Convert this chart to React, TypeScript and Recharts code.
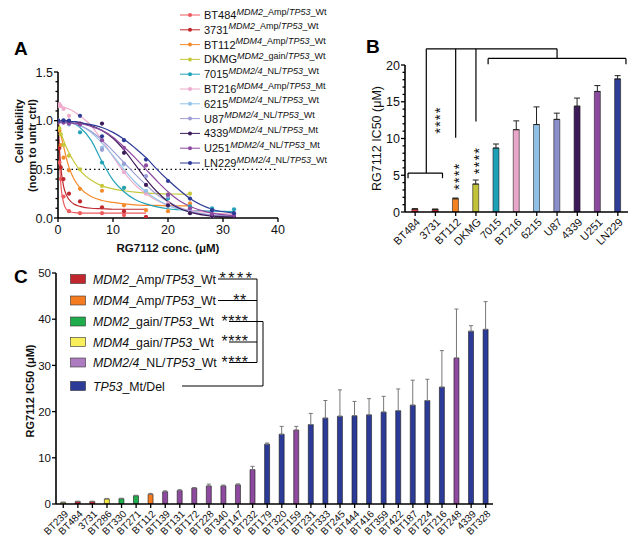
import React from 'react';
import {
  ComposedChart, Line, Scatter, Bar, XAxis, YAxis, ReferenceLine, ReferenceDot, ErrorBar, Cell,
} from 'recharts';

const FONT = '"Liberation Sans", Arial, Helvetica, sans-serif';

// ---------------- Panel A data ----------------
const A_NAMES = ['BT484', '3731', 'BT112', 'DKMG', '7015', 'BT216', '6215', 'U87', '4339', 'U251', 'LN229'];
const A_GENOTYPES = [
  'MDM2_Amp/TP53_Wt', 'MDM2_Amp/TP53_Wt', 'MDM4_Amp/TP53_Wt', 'MDM2_gain/TP53_Wt', 'MDM2/4_NL/TP53_Wt',
  'MDM4_Amp/TP53_Mt', 'MDM2/4_NL/TP53_Wt', 'MDM2/4_NL/TP53_Wt', 'MDM2/4_NL/TP53_Mt', 'MDM2/4_NL/TP53_Mt',
  'MDM2/4_NL/TP53_Wt',
];
const A_COLORS = ['#ee5a5d', '#c0282f', '#f58a2b', '#c6c83b', '#22a2b8', '#eeaacb', '#93c3ea', '#9d9dd4', '#3d1c5b', '#8c4ba0', '#2d3b97'];
const A_CONC = [0, 0.25, 0.5, 1, 2, 4, 8, 12, 16, 20, 24, 28, 32];
const A_FIT_CONC = [0, 0.25, 0.5, 1, 1.5, 2, 3, 4, 6, 8, 10, 12, 14, 16, 18, 20, 22, 24, 28, 32];
const A_YTICKS = [0, 0.1, 0.2, 0.3, 0.4, 0.5, 0.6, 0.7, 0.8, 0.9, 1, 1.1, 1.2, 1.3, 1.4, 1.5];
const A_YMAJOR = [0, 0.5, 1, 1.5];
const A_XTICKS = [0, 10, 20, 30, 40];

const PTS_BT484 = [1.0, 0.57, 0.40, 0.22, 0.07, 0.05, 0.05, 0.03, 0.01, null, null, null, null];
const PTS_3731 = [1.0, 0.72, 0.52, 0.40, 0.25, 0.17, 0.11, 0.07, 0.01, null, null, null, null];
const PTS_BT112 = [1.0, 0.90, 0.75, 0.62, 0.49, 0.30, 0.28, 0.13, 0.08, 0.07, 0.15, null, null];
const PTS_DKMG = [1.0, 0.92, 0.86, 0.75, 0.64, 0.50, 0.33, 0.31, 0.27, 0.24, 0.25, null, null];
const PTS_7015 = [1.0, null, null, 1.0, 0.97, 0.88, 0.57, 0.31, 0.26, 0.20, 0.12, 0.10, 0.09];
const PTS_BT216 = [1.15, 1.17, 1.15, 1.12, 1.05, 0.96, 0.72, 0.47, 0.25, 0.15, 0.06, 0.02, 0.02];
const PTS_6215 = [1.0, null, null, 0.98, 0.96, 0.95, 0.72, 0.55, 0.28, 0.12, 0.05, 0.02, 0.02];
const PTS_U87 = [1.0, null, null, 0.99, 0.98, 0.97, 0.70, 0.56, 0.43, 0.22, 0.08, 0.02, 0.01];
const PTS_4339 = [1.0, null, null, 1.0, 0.99, 0.97, 0.97, 0.67, 0.34, 0.13, 0.05, 0.02, 0.01];
const PTS_U251 = [0.98, null, null, 0.98, 0.97, 0.96, 0.80, 0.72, 0.54, 0.24, 0.10, 0.04, 0.03];
const PTS_LN229 = [1.0, null, null, 1.0, 1.0, 1.05, 0.84, 0.80, 0.60, 0.38, 0.20, 0.08, 0.05];

const FIT_BT484 = [1.0, 0.62, 0.36, 0.16, 0.09, 0.07, 0.055, 0.05, 0.05, 0.05, 0.05, 0.05, 0.05, 0.05, null, null, null, null, null, null];
const FIT_3731 = [0.97, 0.72, 0.53, 0.33, 0.24, 0.19, 0.14, 0.12, 0.10, 0.095, 0.09, 0.09, 0.09, 0.09, null, null, null, null, null, null];
const FIT_BT112 = [1.0, 0.93, 0.86, 0.74, 0.62, 0.52, 0.39, 0.31, 0.22, 0.18, 0.16, 0.145, 0.135, 0.13, 0.13, 0.125, 0.125, 0.125, null, null];
const FIT_DKMG = [0.98, 0.93, 0.88, 0.80, 0.73, 0.67, 0.57, 0.49, 0.39, 0.33, 0.30, 0.28, 0.265, 0.255, 0.25, 0.248, 0.245, 0.243, null, null];
const FIT_7015 = [1.0, 1.0, 1.0, 0.995, 0.99, 0.985, 0.97, 0.93, 0.80, 0.58, 0.39, 0.27, 0.19, 0.145, 0.115, 0.095, 0.085, 0.078, 0.07, 0.065];
const FIT_BT216 = [1.16, 1.16, 1.15, 1.14, 1.13, 1.12, 1.09, 1.05, 0.95, 0.80, 0.63, 0.47, 0.34, 0.25, 0.18, 0.13, 0.10, 0.08, 0.05, 0.04];
const FIT_6215 = [1.0, 1.0, 1.0, 0.99, 0.99, 0.98, 0.97, 0.95, 0.88, 0.77, 0.64, 0.50, 0.37, 0.27, 0.19, 0.13, 0.09, 0.06, 0.03, 0.02];
const FIT_U87 = [0.99, 0.99, 0.99, 0.99, 0.98, 0.98, 0.97, 0.95, 0.89, 0.80, 0.69, 0.57, 0.45, 0.34, 0.24, 0.17, 0.11, 0.07, 0.03, 0.015];
const FIT_4339 = [1.0, 1.0, 1.0, 1.0, 1.0, 0.99, 0.99, 0.98, 0.95, 0.90, 0.82, 0.70, 0.55, 0.40, 0.27, 0.17, 0.10, 0.06, 0.02, 0.01];
const FIT_U251 = [0.98, 0.98, 0.98, 0.98, 0.98, 0.98, 0.97, 0.97, 0.94, 0.90, 0.83, 0.73, 0.62, 0.50, 0.38, 0.27, 0.18, 0.12, 0.05, 0.025];
const FIT_LN229 = [1.0, 1.0, 1.0, 1.0, 1.0, 0.99, 0.99, 0.98, 0.96, 0.93, 0.88, 0.81, 0.72, 0.62, 0.50, 0.39, 0.29, 0.20, 0.09, 0.05];

const A_POINTS = [PTS_BT484, PTS_3731, PTS_BT112, PTS_DKMG, PTS_7015, PTS_BT216, PTS_6215, PTS_U87, PTS_4339, PTS_U251, PTS_LN229];
const A_FITS = [FIT_BT484, FIT_3731, FIT_BT112, FIT_DKMG, FIT_7015, FIT_BT216, FIT_6215, FIT_U87, FIT_4339, FIT_U251, FIT_LN229];

// ---------------- Panel B data ----------------
const B_NAMES = ['BT484', '3731', 'BT112', 'DKMG', '7015', 'BT216', '6215', 'U87', '4339', 'U251', 'LN229'];
const B_IC50 = [0.4, 0.35, 1.8, 3.8, 8.7, 11.2, 11.9, 12.6, 14.4, 16.4, 18.1];
const B_ERR = [0.05, 0.05, 0.1, 0.55, 0.55, 1.2, 2.4, 0.85, 1.1, 0.8, 0.45];
const B_COLORS = ['#e33b3e', '#b8262c', '#f5821f', '#c2c23a', '#1e9fb5', '#e8a6c9', '#90c0e6', '#8b8fcc', '#3b1a57', '#8b4a9e', '#2e3d97'];
const B_YTICKS = [0, 1, 2, 3, 4, 5, 6, 7, 8, 9, 10, 11, 12, 13, 14, 15, 16, 17, 18, 19, 20];
const B_YMAJOR = [0, 5, 10, 15, 20];

// ---------------- Panel C data ----------------
const C_NAMES = ['BT239', 'BT484', '3731', 'BT286', 'BT330', 'BT271', 'BT112', 'BT139', 'BT131', 'BT172', 'BT228', 'BT340', 'BT147', 'BT232', 'BT179', 'BT320', 'BT159', 'BT231', 'BT333', 'BT245', 'BT444', 'BT416', 'BT359', 'BT422', 'BT187', 'BT224', 'BT216', 'BT248', '4339', 'BT328'];
const C_IC50 = [0.35, 0.55, 0.55, 1.1, 1.15, 1.8, 2.1, 2.65, 2.9, 3.45, 3.9, 3.9, 4.15, 7.45, 12.95, 15.1, 16.0, 17.2, 18.6, 19.0, 19.1, 19.3, 19.9, 20.2, 21.4, 22.4, 25.3, 31.6, 37.4, 37.8];
const C_ERR = [0.05, 0.05, 0.05, 0.1, 0.1, 0.1, 0.2, 0.2, 0.2, 0.1, 0.4, 0.2, 0.2, 0.7, 0.25, 1.7, 0.8, 2.4, 3.8, 5.7, 3.1, 3.5, 3.4, 4.7, 5.4, 4.6, 7.9, 10.6, 1.2, 6.0];
const C_GROUP = [3, 0, 0, 3, 2, 2, 1, 4, 4, 4, 4, 4, 4, 4, 5, 5, 4, 5, 5, 5, 5, 5, 5, 5, 5, 5, 5, 4, 5, 5];
const C_GROUP_LABELS = ['MDM2_Amp/TP53_Wt', 'MDM4_Amp/TP53_Wt', 'MDM2_gain/TP53_Wt', 'MDM4_gain/TP53_Wt', 'MDM2/4_NL/TP53_Wt', 'TP53_Mt/Del'];
const C_GROUP_STARS = ['****', '**', '****', '****', '****', ''];
const C_GROUP_COLORS = ['#c1272d', '#f47b20', '#1fad4b', '#f4e83a', '#8d4a9e', '#2c3b97'];
const C_LEGEND_COLORS = ['#c1272d', '#f47b20', '#1fad4b', '#f7ee5a', '#ad7cc0', '#2c3b97'];
const C_YTICKS = [0, 10, 20, 30, 40, 50];

// ---------------- helpers ----------------
const splitGenes = (s: string) => s.split(/(MDM2\/4|MDM2|MDM4|TP53)/).filter((t) => t !== '')
  .map((t) => ({ t, it: /^(MDM2\/4|MDM2|MDM4|TP53)$/.test(t) }));

const yTick = (majors: number[], fmt: (v: number) => string, fs: number, ts: number, tm: number, minorLen: number) => (p: any) => {
  const { x, y, payload } = p;
  const ax = x + ts + tm;
  const v = payload.value;
  const major = majors.some((m) => Math.abs(m - v) < 1e-6);
  return (
    <g>
      <line x1={ax} x2={ax - (major ? ts : minorLen)} y1={y} y2={y} stroke="#000" strokeWidth={1.3} />
      {major && (
        <text x={ax - ts - tm} y={y} dy="0.36em" textAnchor="end" fontSize={fs} fontFamily={FONT} fill="#111">{fmt(v)}</text>
      )}
    </g>
  );
};

const xTick = (fs: number, ts: number, tm: number) => (p: any) => {
  const { x, y, payload } = p;
  const ay = y - ts - tm;
  return (
    <g>
      <line x1={x} x2={x} y1={ay} y2={ay + ts} stroke="#000" strokeWidth={1.3} />
      <text x={x} y={ay + ts + tm} dy="0.8em" textAnchor="middle" fontSize={fs} fontFamily={FONT} fill="#111">{payload.value}</text>
    </g>
  );
};

const rotTick = (fs: number, ts: number, tm: number) => (p: any) => {
  const { x, y, payload } = p;
  const ay = y - ts - tm;
  const tx = x + 3;
  const ty = ay + ts + 4;
  return (
    <g>
      <line x1={x} x2={x} y1={ay} y2={ay + ts} stroke="#000" strokeWidth={1.3} />
      <text x={tx} y={ty} transform={`rotate(-45 ${tx} ${ty})`} dy="0.36em" textAnchor="end" fontSize={fs} fontFamily={FONT} fill="#111">{payload.value}</text>
    </g>
  );
};

const vStars = (p: any) => {
  const vb = p.viewBox || {};
  const x = vb.x ?? 0;
  const y = vb.y ?? 0;
  return (
    <text x={x} y={y} transform={`rotate(-90 ${x} ${y})`} textAnchor="middle" dy="0.55em" fontSize={15} fontFamily={FONT} fill="#111" letterSpacing={1}>****</text>
  );
};

const AXIS = { stroke: '#000', strokeWidth: 1.6 };

// ---------------- Panel A ----------------
function PanelA() {
  const fitRows = A_FIT_CONC.map((x, i) => {
    const row: any = { x };
    A_NAMES.forEach((n, k) => { row['s' + k] = A_FITS[k][i]; });
    return row;
  });
  const pts = A_NAMES.map((n, k) => A_CONC.map((x, i) => ({ x, y: A_POINTS[k][i] })).filter((d) => d.y !== null));
  return (
    <ComposedChart width={340} height={262} data={fitRows} margin={{ top: 72, right: 62, bottom: 4, left: 18 }}>
      <XAxis dataKey="x" type="number" domain={[0, 40]} ticks={A_XTICKS} interval={0} allowDataOverflow
        tickSize={4} tickMargin={2} tickLine={false} axisLine={AXIS} tick={xTick(12.5, 4, 2)} height={40} />
      <YAxis type="number" domain={[0, 1.5]} ticks={A_YTICKS} interval={0} allowDataOverflow
        tickSize={4} tickMargin={1} tickLine={false} axisLine={AXIS} width={40}
        tick={yTick(A_YMAJOR, (v) => v.toFixed(1), 12.5, 4, 1, 2.5)} />
      <ReferenceLine y={0.5} stroke="#000" strokeWidth={1.3} strokeDasharray="1.5 3" />
      {A_NAMES.map((n, k) => (
        <Line key={'l' + n} dataKey={'s' + k} type="monotone" stroke={A_COLORS[k]} strokeWidth={1.2}
          dot={false} activeDot={false} connectNulls={false} isAnimationActive={false} />
      ))}
      {A_NAMES.map((n, k) => (
        <Scatter key={'p' + n} data={pts[k]} dataKey="y" fill={A_COLORS[k]} isAnimationActive={false}
          shape={(p: any) => <circle cx={p.cx} cy={p.cy} r={2.1} fill={A_COLORS[k]} />} />
      ))}
    </ComposedChart>
  );
}

// ---------------- Panel B ----------------
function PanelB() {
  const rows = B_NAMES.map((name, i) => ({ name, idx: i, ic50: B_IC50[i], err: [0, B_ERR[i]] }));
  const seg = (x1: number, y1: number, x2: number, y2: number, key: string) => (
    <ReferenceLine key={key} xAxisId="n" segment={[{ x: x1, y: y1 }, { x: x2, y: y2 }]} stroke="#000" strokeWidth={1.2} ifOverflow="visible" />
  );
  return (
    <ComposedChart width={297} height={270} data={rows} margin={{ top: 65, right: 9, bottom: 8, left: 25 }} barCategoryGap="34%">
      <XAxis dataKey="name" type="category" interval={0} tickSize={4} tickMargin={1} tickLine={false}
        axisLine={AXIS} tick={rotTick(11, 4, 1)} height={50} />
      <XAxis xAxisId="n" dataKey="idx" type="number" domain={[-0.5, 10.5]} allowDataOverflow hide />
      <YAxis type="number" domain={[0, 20]} ticks={B_YTICKS} interval={0} allowDataOverflow tickSize={4} tickMargin={1}
        tickLine={false} axisLine={AXIS} width={40} tick={yTick(B_YMAJOR, (v) => String(v), 12.5, 4, 1, 2.5)} />
      <Bar dataKey="ic50" isAnimationActive={false} stroke="#222" strokeWidth={0.6}>
        {rows.map((r, i) => <Cell key={r.name} fill={B_COLORS[i]} />)}
        <ErrorBar dataKey="err" width={3} stroke="#222" strokeWidth={1} direction="y" />
      </Bar>
      {seg(-0.35, 5.3, 1.35, 5.3, 'a1')}
      {seg(-0.35, 5.3, -0.35, 4.6, 'a2')}
      {seg(1.35, 5.3, 1.35, 4.6, 'a3')}
      {seg(0.55, 5.3, 0.55, 22.2, 'a4')}
      {seg(0.55, 22.2, 7.0, 22.2, 'a5')}
      {seg(2, 22.2, 2, 10.1, 'a6')}
      {seg(3, 22.2, 3, 12.3, 'a7')}
      {seg(7.0, 22.2, 7.0, 20.9, 'a8')}
      {seg(3.6, 20.9, 10.4, 20.9, 'a9')}
      {seg(3.6, 20.9, 3.6, 20.1, 'a10')}
      {seg(10.4, 20.9, 10.4, 20.1, 'a11')}
      <ReferenceDot xAxisId="n" x={1.08} y={12.5} r={0} fill="none" stroke="none" ifOverflow="visible" label={vStars} />
      <ReferenceDot xAxisId="n" x={2} y={4.85} r={0} fill="none" stroke="none" ifOverflow="visible" label={vStars} />
      <ReferenceDot xAxisId="n" x={3} y={7.0} r={0} fill="none" stroke="none" ifOverflow="visible" label={vStars} />
    </ComposedChart>
  );
}

// ---------------- Panel C ----------------
function PanelC() {
  const rows = C_NAMES.map((name, i) => ({ name, ic50: C_IC50[i], err: [0, C_ERR[i]] }));
  return (
    <ComposedChart width={637} height={284} data={rows} margin={{ top: 11, right: 144, bottom: 2, left: 20 }} barCategoryGap="32%">
      <XAxis dataKey="name" type="category" interval={0} tickSize={4} tickMargin={1} tickLine={false}
        axisLine={AXIS} tick={rotTick(10, 4, 1)} height={40} />
      <YAxis type="number" domain={[0, 50]} ticks={C_YTICKS} interval={0} allowDataOverflow tickSize={4} tickMargin={1}
        tickLine={false} axisLine={AXIS} width={36} tick={yTick(C_YTICKS, (v) => String(v), 11.5, 4, 1, 2.5)} />
      <Bar dataKey="ic50" isAnimationActive={false} stroke="#1a1a1a" strokeWidth={0.6}>
        {rows.map((r, i) => <Cell key={r.name} fill={C_GROUP_COLORS[C_GROUP[i]]} />)}
        <ErrorBar dataKey="err" width={2} stroke="#777" strokeWidth={1} direction="y" />
      </Bar>
    </ComposedChart>
  );
}

// ---------------- Overlay (letters, titles, legends) ----------------
function Overlay() {
  const legA = A_NAMES.map((n, k) => {
    const yc = 15 + k * 14.8;
    return (
      <g key={n}>
        <line x1={180} x2={200} y1={yc} y2={yc} stroke={A_COLORS[k]} strokeWidth={1} />
        <circle cx={190} cy={yc} r={2} fill={A_COLORS[k]} />
        <text x={204} y={yc + 4} fontSize={11} fontFamily={FONT} fill="#111">
          {n}
          <tspan dy={-4.5} fontSize={9}>
            {splitGenes(A_GENOTYPES[k]).map((s, i) => (
              <tspan key={i} fontStyle={s.it ? 'italic' : 'normal'}>{s.t}</tspan>
            ))}
          </tspan>
        </text>
      </g>
    );
  });
  const rowY = [279, 300.5, 321.5, 342, 362.5, 386];
  const legC = C_GROUP_LABELS.map((lab, k) => (
    <g key={lab}>
      <rect x={70.5} y={rowY[k] - 4.5} width={15} height={9} fill={C_LEGEND_COLORS[k]} stroke="#333" strokeWidth={0.6} />
      <text x={93} y={rowY[k] + 4.5} fontSize={12.3} fontFamily={FONT} fill="#111">
        {splitGenes(lab).map((s, i) => (
          <tspan key={i} fontStyle={s.it ? 'italic' : 'normal'}>{s.t}</tspan>
        ))}
      </text>
      {C_GROUP_STARS[k] && (
        <text x={k === 0 ? 237 : k === 1 ? 240 : 235} y={rowY[k] + 5} textAnchor="middle" fontSize={16} fontFamily={FONT}
          fill="#111" letterSpacing={k === 0 ? 2.5 : 0.5}>{C_GROUP_STARS[k]}</text>
      )}
    </g>
  ));
  const L = (x1: number, y1: number, x2: number, y2: number, key: string) => (
    <line key={key} x1={x1} y1={y1} x2={x2} y2={y2} stroke="#000" strokeWidth={1} />
  );
  return (
    <svg width={637} height={546} style={{ position: 'absolute', left: 0, top: 0, pointerEvents: 'none' }}>
      <g fontFamily={FONT} fontWeight="bold" fill="#000">
        <text x={14} y={55} fontSize={19}>A</text>
        <text x={366} y={53} fontSize={19}>B</text>
        <text x={14} y={283} fontSize={19}>C</text>
      </g>
      {legA}
      <g fontFamily={FONT} fill="#111">
        <text x={19} y={99} transform="rotate(-90 19 99)" textAnchor="end" dy="0.35em" fontSize={11} fontWeight="bold">Cell viability</text>
        <text x={32} y={99} transform="rotate(-90 32 99)" textAnchor="end" dy="0.35em" fontSize={11} fontWeight="bold">(norm to untr ctrl)</text>
        <text x={168} y={252} textAnchor="middle" fontSize={11.5} fontWeight="bold">RG7112 conc. (μM)</text>
        <text x={377} y={138.5} transform="rotate(-90 377 138.5)" textAnchor="middle" dy="0.35em" fontSize={12.5}>RG7112 IC50 (μM)</text>
        <text x={30} y={391} transform="rotate(-90 30 391)" textAnchor="middle" dy="0.35em" fontSize={11} fontWeight="bold">RG7112 IC50 (μM)</text>
      </g>
      {legC}
      {L(218, rowY[0], 257, rowY[0], 'c1')}
      {L(218, rowY[1], 257, rowY[1], 'c2')}
      {L(229, rowY[2], 263, rowY[2], 'c3')}
      {L(229, rowY[3], 257, rowY[3], 'c4')}
      {L(229, rowY[4], 257, rowY[4], 'c5')}
      {L(257, rowY[0], 257, rowY[4], 'c6')}
      {L(263, rowY[2], 263, rowY[5], 'c7')}
      {L(182, rowY[5], 263, rowY[5], 'c8')}
    </svg>
  );
}

export default function App() {
  return (
    <div style={{ position: 'absolute', left: 0, top: 0, width: 637, height: 546, background: '#fff', overflow: 'hidden', fontFamily: FONT }}>
      <div style={{ position: 'absolute', left: 0, top: 0 }}><PanelA /></div>
      <div style={{ position: 'absolute', left: 340, top: 0 }}><PanelB /></div>
      <div style={{ position: 'absolute', left: 0, top: 262 }}><PanelC /></div>
      <Overlay />
    </div>
  );
}
